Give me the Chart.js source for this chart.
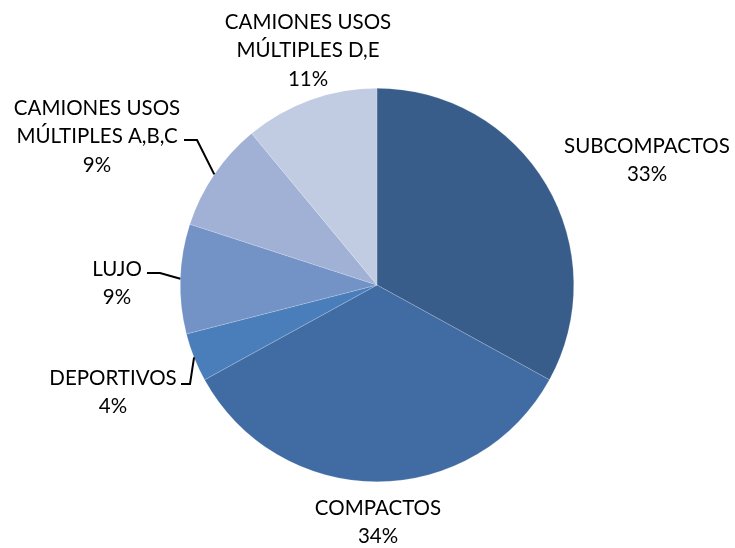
<!DOCTYPE html>
<html lang="es">
<head>
    <meta charset="UTF-8">
    <title>Segmentos</title>
    <script src="https://cdn.jsdelivr.net/npm/chart.js"></script>
    <style>
        html, body { margin: 0; padding: 0; background: #ffffff; }
        .chart-container { position: relative; width: 735px; height: 548px; }
    </style>
</head>
<body>
    <div class="chart-container">
        <canvas id="pieChart"></canvas>
    </div>

    <script>
        // categorías (una línea por elemento)
        const categories = [
            ['SUBCOMPACTOS'],
            ['COMPACTOS'],
            ['DEPORTIVOS'],
            ['LUJO'],
            ['CAMIONES USOS', 'MÚLTIPLES A,B,C'],
            ['CAMIONES USOS', 'MÚLTIPLES D,E']
        ];
        const shares = [33, 34, 4, 9, 9, 11];
        const sliceColors = ['#385d8a', '#416ca3', '#4a7ebb', '#7393c7', '#a0b1d5', '#c1cbe2'];

        // posición del texto de cada etiqueta y línea guía opcional [codoX, codoY, finX]
        const labelPlacement = [
            { x: 647, y: 146 },
            { x: 378, y: 508 },
            { x: 113, y: 378, leader: [190, 384, 181] },
            { x: 117, y: 269, leader: [160, 273, 147] },
            { x: 97, y: 108, leader: [197, 140, 184] },
            { x: 308, y: 22 }
        ];

        const lineGap = 28.5;

        const outsideLabels = {
            id: 'outsideLabels',
            afterDraw(chart) {
                const ctx = chart.ctx;
                const meta = chart.getDatasetMeta(0);
                ctx.save();
                ctx.font = '20.5px Lato, "Open Sans", sans-serif';
                ctx.fillStyle = '#000000';
                ctx.textAlign = 'center';
                ctx.textBaseline = 'middle';
                meta.data.forEach((arc, i) => {
                    const p = labelPlacement[i];
                    const lines = categories[i].concat([shares[i] + '%']);
                    lines.forEach((t, k) => ctx.fillText(t, p.x, p.y + k * lineGap));
                    if (p.leader) {
                        const mid = (arc.startAngle + arc.endAngle) / 2;
                        const ex = arc.x + Math.cos(mid) * arc.outerRadius;
                        const ey = arc.y + Math.sin(mid) * arc.outerRadius;
                        ctx.beginPath();
                        ctx.strokeStyle = '#000000';
                        ctx.lineWidth = 2;
                        ctx.moveTo(p.leader[2], p.leader[1]);
                        ctx.lineTo(p.leader[0], p.leader[1]);
                        ctx.lineTo(ex, ey);
                        ctx.stroke();
                    }
                });
                ctx.restore();
            }
        };

        new Chart(document.getElementById('pieChart'), {
            type: 'pie',
            data: {
                labels: categories.map(c => c.join(' ')),
                datasets: [{
                    data: shares,
                    backgroundColor: sliceColors,
                    borderColor: 'rgba(255,255,255,0.35)',
                    borderWidth: 0.5
                }]
            },
            options: {
                responsive: true,
                maintainAspectRatio: false,
                animation: false,
                layout: { padding: { top: 88, bottom: 66, left: 180, right: 161 } },
                plugins: {
                    legend: { display: false },
                    tooltip: { enabled: false }
                }
            },
            plugins: [outsideLabels]
        });
    </script>
</body>
</html>
